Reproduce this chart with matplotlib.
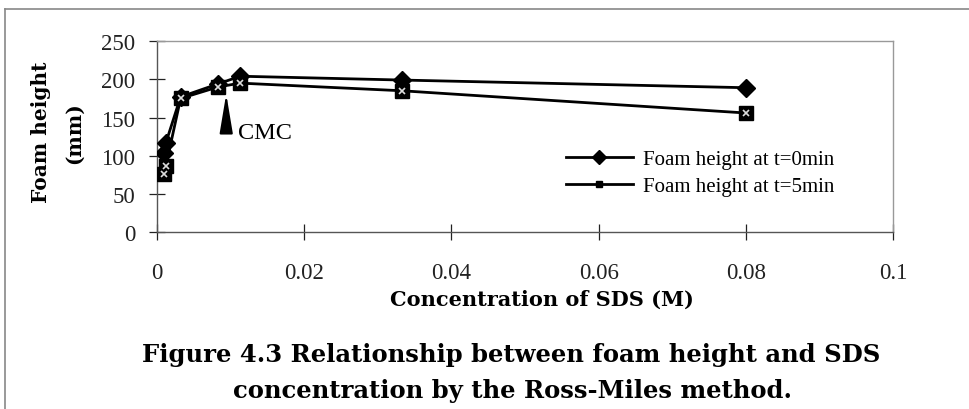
"""
Foam height vs SDS concentration (Ross-Miles method)
"""
import matplotlib.pyplot as plt
from matplotlib.lines import Line2D

plt.rcParams['font.family'] = ['Liberation Serif', 'DejaVu Serif']

# data
conc = [0.0009, 0.0012, 0.0032, 0.0083, 0.0113, 0.0333, 0.08]
height_t0 = [104, 117, 177, 194, 204, 199, 189]
height_t5 = [76, 87, 175, 190, 195, 185, 156]

x_ticks = [0, 0.02, 0.04, 0.06, 0.08, 0.1]
x_tick_labels = ['0', '0.02', '0.04', '0.06', '0.08', '0.1']
y_ticks = [0, 50, 100, 150, 200, 250]

cmc_x = 0.0094
cmc_tip = 181
cmc_base = 137

legend_labels = ['Foam height at t=0min', 'Foam height at t=5min']

# wide bold serif for the letter-spaced labels of the scan
wide_bold = dict(family=['DejaVu Serif'], fontweight='bold')

fig = plt.figure(figsize=(9.7, 4.1), dpi=100)
ax = fig.add_axes([0.1619, 0.4305, 0.7587, 0.4671])

# t=0 : black diamonds
ax.plot(conc, height_t0, color='black', lw=2, marker='D', markersize=9.5,
        markerfacecolor='black', markeredgecolor='black', zorder=3)
# t=5 : black squares with a small light pattern
ax.plot(conc, height_t5, color='black', lw=2, marker='s', markersize=10,
        markerfacecolor='black', markeredgecolor='black', zorder=4)
ax.plot(conc, height_t5, linestyle='none', marker='x', markersize=4,
        markeredgecolor='#dddddd', markeredgewidth=1.2, zorder=5)

# CMC arrow
ax.annotate('', xy=(cmc_x, cmc_tip), xytext=(cmc_x, cmc_base),
            arrowprops=dict(arrowstyle='-|>,head_length=2.4,head_width=0.4',
                            color='black', lw=1.5, shrinkA=0, shrinkB=0))
ax.text(0.0110, 130, 'CMC', fontsize=17.5, ha='left', va='center')

ax.set_xlim(0, 0.1)
ax.set_ylim(0, 250)
ax.set_xticks(x_ticks)
ax.set_xticklabels(x_tick_labels)
ax.set_yticks(y_ticks)
ax.tick_params(axis='both', direction='inout', length=11, width=0.9,
               labelsize=16.5, colors='#222222')
ax.tick_params(axis='y', pad=10)
ax.tick_params(axis='x', pad=16)
for side in ['top', 'right']:
    ax.spines[side].set_color('#999999')
    ax.spines[side].set_linewidth(1.0)
for side in ['left', 'bottom']:
    ax.spines[side].set_color('#555555')
    ax.spines[side].set_linewidth(1.0)

ax.set_ylabel('Foam height\n(mm)', fontsize=14.5, linespacing=1.75,
              **wide_bold)
ax.yaxis.set_label_coords(-0.1, 0.526)
ax.set_xlabel('Concentration of SDS (M)', fontsize=15, **wide_bold)
ax.xaxis.set_label_coords(0.523, -0.295)

handles = [
    Line2D([], [], color='black', lw=2, marker='D', markersize=7),
    Line2D([], [], color='black', lw=2, marker='s', markersize=5),
]
ax.legend(handles, legend_labels, loc='upper left',
          bbox_to_anchor=(0.53, 0.53), frameon=False, fontsize=15,
          handlelength=3.2, handletextpad=0.5, labelspacing=0.35)

# caption
fig.text(0.527, 0.117, 'Figure 4.3 Relationship between foam height and SDS',
         ha='center', va='baseline', fontsize=17.5, **wide_bold)
fig.text(0.528, 0.029, 'concentration by the Ross-Miles method.',
         ha='center', va='baseline', fontsize=17.5, **wide_bold)

# page frame lines
fig.add_artist(Line2D([0.005, 1.0], [0.975, 0.975], color='#888888', lw=1.2))
fig.add_artist(Line2D([0.005, 0.005], [0.0, 0.975], color='#888888', lw=1.2))

plt.savefig('out.png', dpi=100)
